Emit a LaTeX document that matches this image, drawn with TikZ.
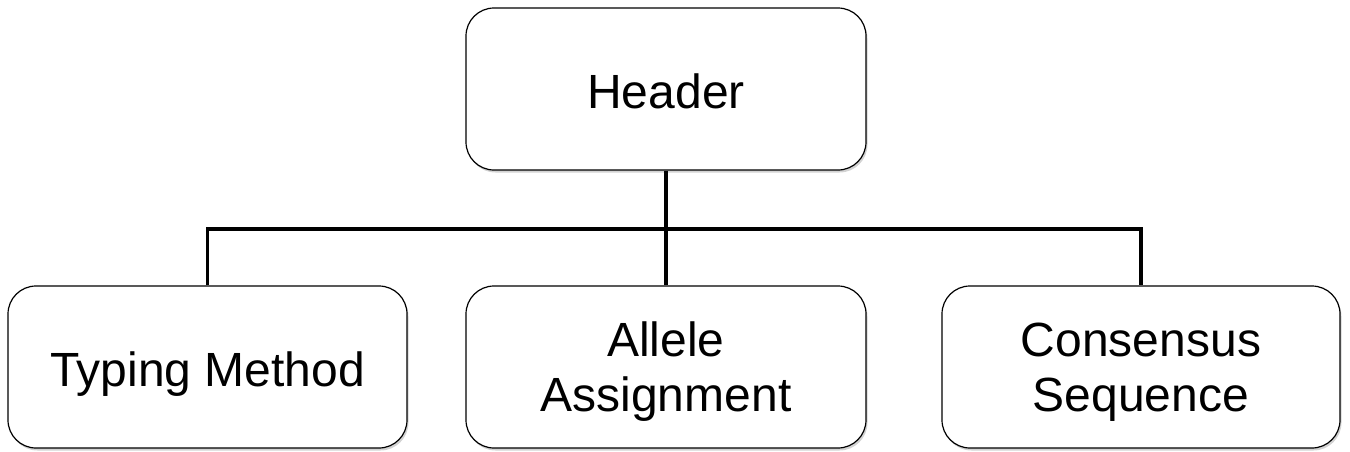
\documentclass[tikz,border=0pt]{standalone}
\usepackage{fontspec}
\setmainfont{Liberation Sans}
\usetikzlibrary{shadows}
\begin{document}
\begin{tikzpicture}[x=1pt,y=-1pt,
  box/.style={draw=black,line width=1.2pt,fill=white,rounded corners=28pt,
    minimum height=162pt,inner sep=0pt,align=center,
    font=\fontsize{48}{55}\selectfont,
    drop shadow={opacity=0.35,shadow xshift=1.5pt,shadow yshift=-2.5pt}},
  oneline/.style={text height=38.6pt,text depth=0pt},
  twoline/.style={text height=90pt,text depth=0.6pt},
  conn/.style={line width=3.6pt,black}]
\useasboundingbox (0,0) rectangle (1350,451);
\node[box,oneline,minimum width=400pt] (head) at (666,89) {Header};
\node[box,oneline,minimum width=399pt] (left) at (207.5,367) {Typing Method};
\node[box,twoline,minimum width=400pt] (mid) at (666,367) {Allele\\Assignment};
\node[box,twoline,minimum width=398pt] (right) at (1141,367) {Consensus\\Sequence};
\coordinate (j) at (666,229);
\draw[conn] (head.south) -- (mid.north);
\draw[conn] (left.north) |- (j) -| (right.north);
\end{tikzpicture}
\end{document}
